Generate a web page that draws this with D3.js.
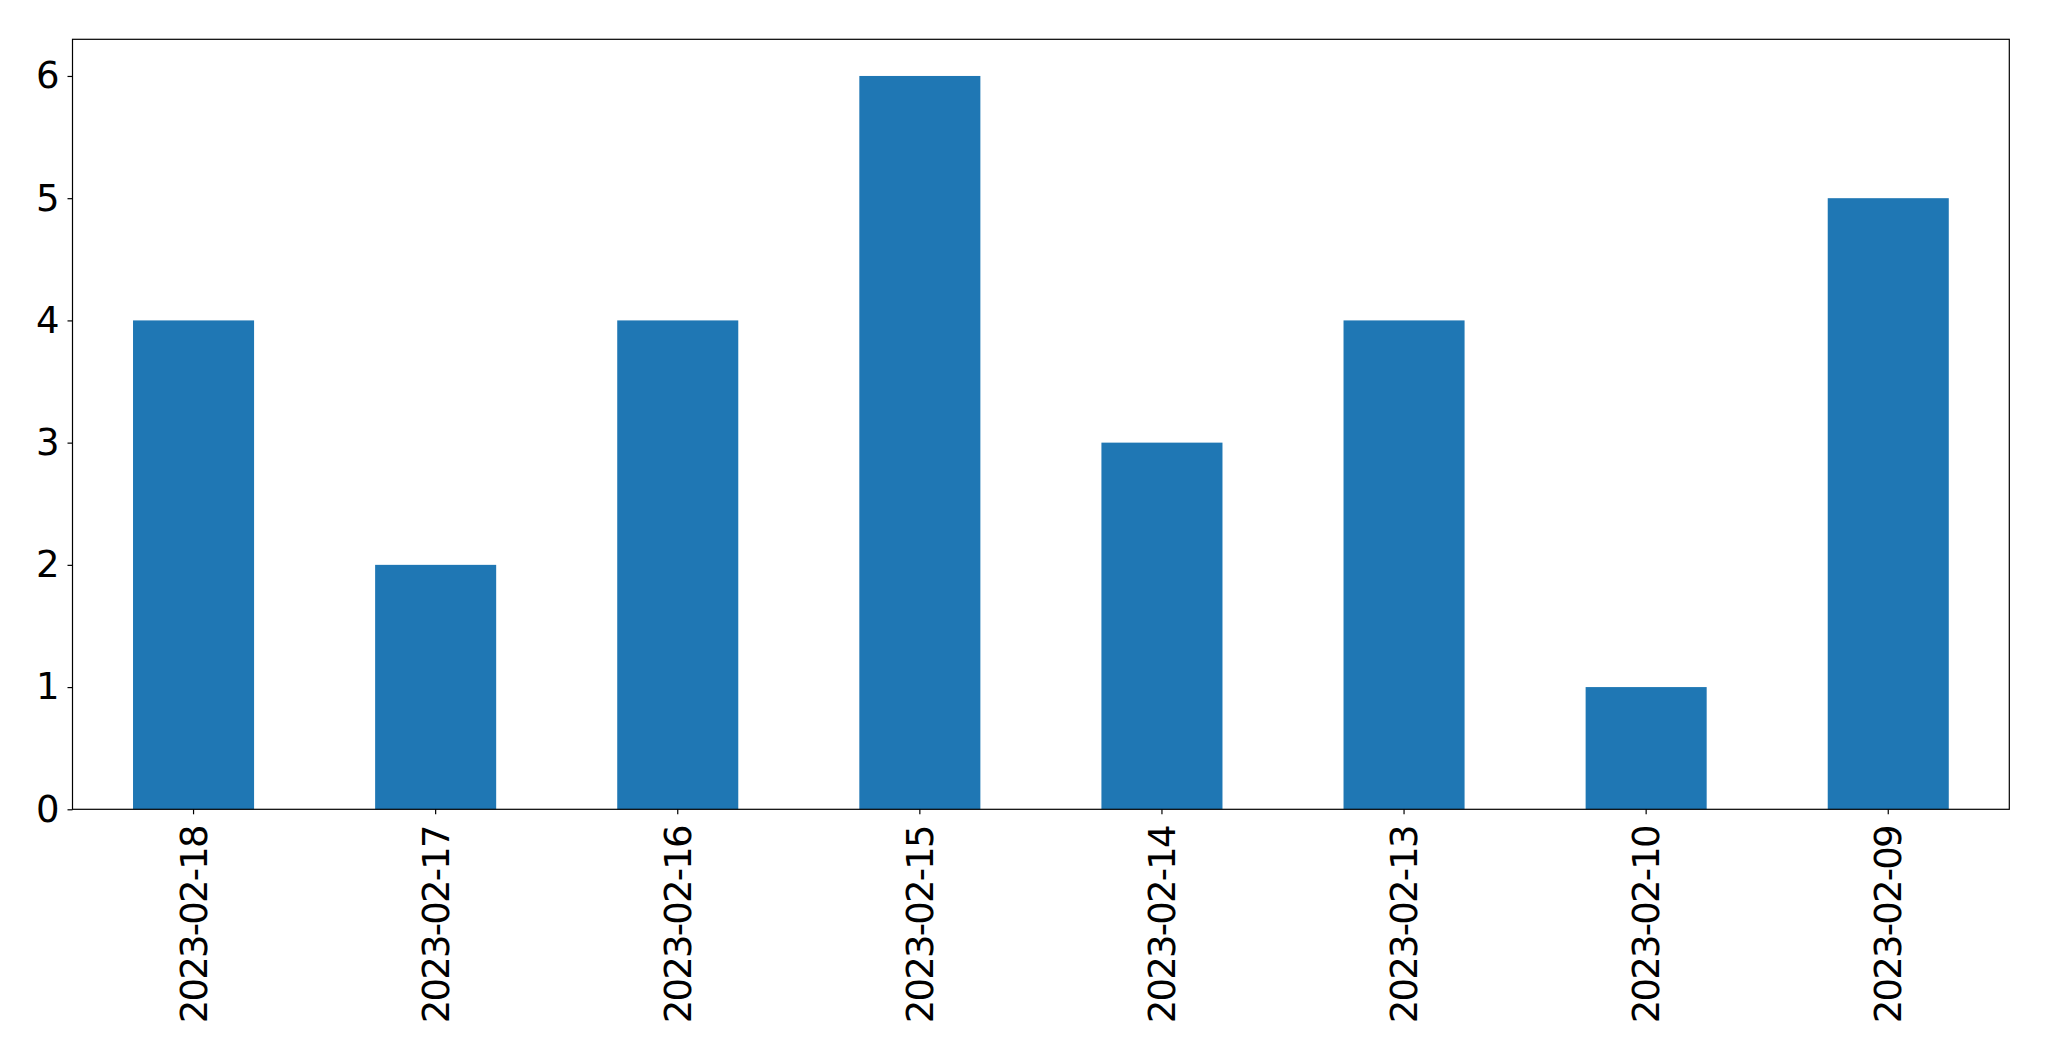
<!DOCTYPE html>
<html><head><meta charset="utf-8">
<script src="https://cdn.jsdelivr.net/npm/d3@7"></script>
<style>body{margin:0;background:#fff;}svg{display:block;}</style>
</head><body>
<script>
const categories = ["2023-02-18","2023-02-17","2023-02-16","2023-02-15","2023-02-14","2023-02-13","2023-02-10","2023-02-09"];
const values = [4,2,4,6,3,4,1,5];
const yTicks = [0,1,2,3,4,5,6];

const W = 2049, H = 1061;
const m = {left:72.5, right:2049-2009.3, top:39.3, bottom:1061-809.3};
const svg = d3.select("body").append("svg").attr("width",W).attr("height",H);

const x = d3.scaleBand().domain(categories).range([m.left, W-m.right]).paddingInner(0.5).paddingOuter(0.25);
const y = d3.scaleLinear().domain([0, 6.3]).range([H-m.bottom, m.top]);

svg.append("g").selectAll("rect").data(values).join("rect")
  .attr("x",(d,i)=>x(categories[i]))
  .attr("width",x.bandwidth())
  .attr("y",d=>y(d))
  .attr("height",d=>y(0)-y(d))
  .attr("fill","#1f77b4");

const font = "DejaVu Sans";
const yAxis = svg.append("g").attr("transform",`translate(${m.left},0)`)
  .call(d3.axisLeft(y).tickValues(yTicks).tickFormat(d3.format("d")).tickSize(5).tickPadding(8));
yAxis.select(".domain").remove();
yAxis.selectAll("text").attr("font-family",font).attr("font-size",37).attr("fill","#000");
yAxis.selectAll("line").attr("stroke","#000").attr("stroke-width",1.2);

const xAxis = svg.append("g").attr("transform",`translate(0,${H-m.bottom})`)
  .call(d3.axisBottom(x).tickSize(5).tickPadding(0));
xAxis.select(".domain").remove();
xAxis.selectAll("line").attr("stroke","#000").attr("stroke-width",1.2);
xAxis.selectAll("text")
  .attr("font-family",font).attr("font-size",37).attr("fill","#000")
  .attr("letter-spacing","-1.8px")
  .attr("transform","rotate(-90)")
  .attr("x",-17).attr("y",0).attr("dy","0.35em")
  .attr("text-anchor","end");

svg.append("rect").attr("x",m.left).attr("y",m.top)
  .attr("width",W-m.right-m.left).attr("height",H-m.bottom-m.top)
  .attr("fill","none").attr("stroke","#000").attr("stroke-width",1.2);
</script>
</body></html>
